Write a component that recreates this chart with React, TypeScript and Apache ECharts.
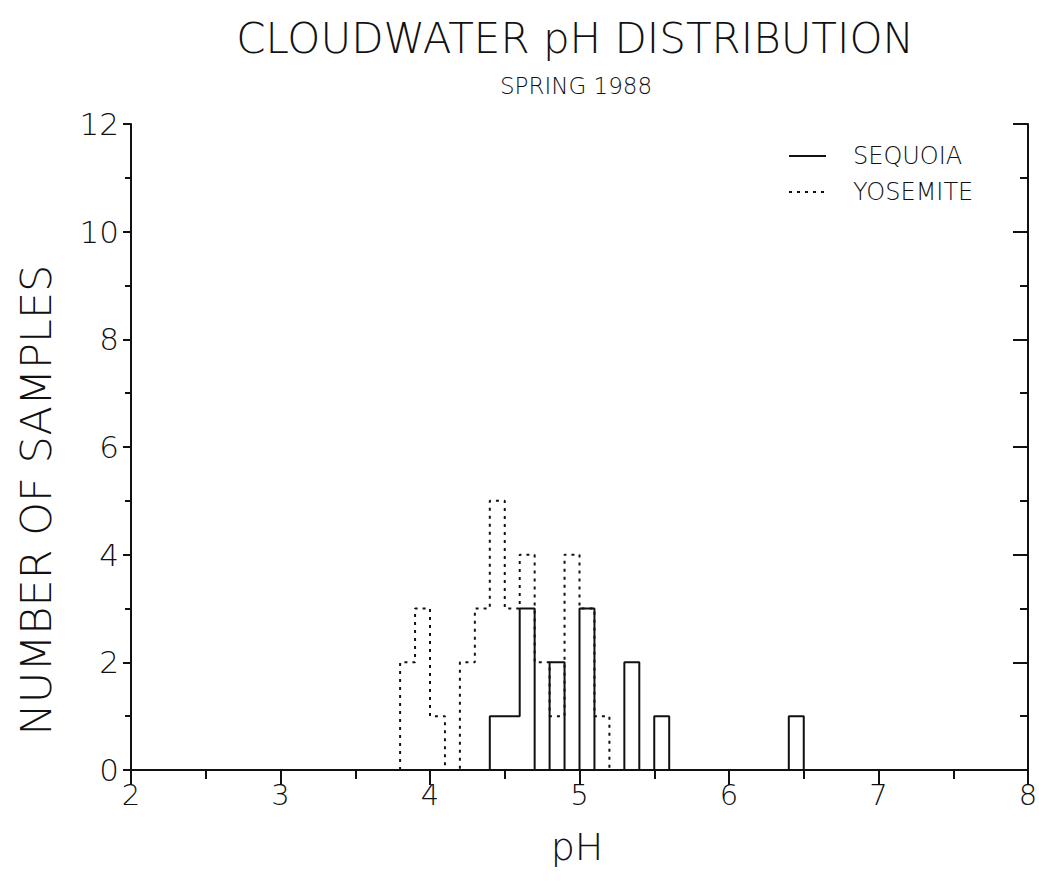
import React, { useEffect, useRef } from "react";
import * as echarts from "echarts";

const titleText = "CLOUDWATER pH DISTRIBUTION";
const subtitleText = "SPRING 1988";
const xAxisName = "pH";
const yAxisName = "NUMBER OF SAMPLES";

const phBins = [3.8, 3.9, 4.0, 4.1, 4.2, 4.3, 4.4, 4.5, 4.6, 4.7, 4.8, 4.9, 5.0, 5.1, 5.2, 5.3, 5.4, 5.5, 5.6, 5.7, 5.8, 5.9, 6.0, 6.1, 6.2, 6.3, 6.4];
const binWidth = 0.1;
const sequoiaCounts = [0, 0, 0, 0, 0, 0, 1, 1, 3, 0, 2, 0, 3, 0, 0, 2, 0, 1, 0, 0, 0, 0, 0, 0, 0, 0, 1];
const yosemiteCounts = [2, 3, 1, 0, 2, 3, 5, 3, 4, 2, 1, 4, 3, 1, 0, 0, 0, 0, 0, 0, 0, 0, 0, 0, 0, 0, 0];

const xMin = 2, xMax = 8, xInterval = 1;
const yMin = 0, yMax = 12, yInterval = 2;

const FONT = "DejaVu Sans";
const INK = "#111";

function stepData(counts: number[]): number[][] {
  let first = counts.findIndex((c) => c > 0);
  let last = counts.length - 1;
  while (last > 0 && counts[last] === 0) last--;
  const pts: number[][] = [[phBins[first], 0]];
  for (let i = first; i <= last; i++) pts.push([phBins[i], counts[i]]);
  pts.push([Math.round((phBins[last] + binWidth) * 10) / 10, 0]);
  return pts;
}

export default function App() {
  const ref = useRef<HTMLDivElement>(null);
  useEffect(() => {
    if (!ref.current) return;
    const chart = echarts.init(ref.current, null, { renderer: "svg" });
    const axisLine = { show: true, lineStyle: { color: INK, width: 2 } };
    const baseX = { type: "value" as const, min: xMin, max: xMax, interval: xInterval, splitLine: { show: false }, axisLine };
    const baseY = { type: "value" as const, min: yMin, max: yMax, interval: yInterval, splitLine: { show: false }, axisLine };
    chart.setOption({
      animation: false,
      backgroundColor: "#fff",
      textStyle: { fontFamily: FONT },
      grid: { left: 131, right: 11, top: 124, bottom: 117, outerBoundsMode: "none" },
      xAxis: [
        {
          ...baseX,
          position: "bottom",
          axisTick: { show: true, inside: false, length: 13, lineStyle: { color: INK, width: 2 } },
          minorTick: { show: true, splitNumber: 2, length: 6, lineStyle: { color: INK, width: 2 } },
          axisLabel: { show: true, color: INK, fontSize: 29, fontFamily: FONT, fontWeight: 300, margin: 10 },
        },
        {
          ...baseX,
          position: "top",
          axisTick: { show: true, inside: true, length: 15, lineStyle: { color: INK, width: 2 } },
          minorTick: { show: true, splitNumber: 2, length: 9, lineStyle: { color: INK, width: 2 } },
          axisLabel: { show: false },
        },
      ],
      yAxis: [
        {
          ...baseY,
          position: "left",
          axisTick: { show: true, inside: false, length: 8, lineStyle: { color: INK, width: 2 } },
          minorTick: { show: true, splitNumber: 2, length: 6, lineStyle: { color: INK, width: 2 } },
          axisLabel: { show: true, color: INK, fontSize: 31, fontFamily: FONT, fontWeight: 300, margin: 12 },
        },
        {
          ...baseY,
          position: "right",
          axisTick: { show: true, inside: true, length: 15, lineStyle: { color: INK, width: 2 } },
          minorTick: { show: true, splitNumber: 2, length: 8, lineStyle: { color: INK, width: 2 } },
          axisLabel: { show: false },
        },
      ],
      legend: {
        show: true,
        orient: "vertical",
        left: 783,
        top: 139,
        itemWidth: 37,
        itemHeight: 14,
        itemGap: 12,
        itemStyle: { color: "rgba(0,0,0,0)", borderColor: "rgba(0,0,0,0)", borderWidth: 0 },
        textStyle: { color: INK, fontSize: 24, fontFamily: FONT, fontWeight: 300, padding: [0, 0, 0, 22] },
        data: ["SEQUOIA", "YOSEMITE"],
      },
      graphic: [
        {
          type: "text",
          x: 575,
          y: 38,
          style: { text: titleText, fill: INK, font: `300 42px "${FONT}"`, textAlign: "center", textVerticalAlign: "middle" },
        },
        {
          type: "text",
          x: 576,
          y: 86,
          style: { text: subtitleText, fill: INK, font: `300 23px "${FONT}"`, textAlign: "center", textVerticalAlign: "middle" },
        },
        {
          type: "text",
          x: 577,
          y: 847,
          style: { text: xAxisName, fill: INK, font: `300 38px "${FONT}"`, textAlign: "center", textVerticalAlign: "middle" },
        },
        {
          type: "text",
          x: 36,
          y: 500,
          rotation: Math.PI / 2,
          style: { text: yAxisName, fill: INK, font: `300 43px "${FONT}"`, textAlign: "center", textVerticalAlign: "middle" },
        },
      ],
      series: [
        {
          name: "YOSEMITE",
          type: "line",
          step: "end",
          data: stepData(yosemiteCounts),
          showSymbol: false,
          symbol: "none",
          z: 2,
          lineStyle: { color: INK, width: 2, type: [3, 5] },
          itemStyle: { color: INK },
        },
        {
          name: "SEQUOIA",
          type: "line",
          step: "end",
          data: stepData(sequoiaCounts),
          showSymbol: false,
          symbol: "none",
          z: 3,
          lineStyle: { color: INK, width: 2, type: "solid" },
          itemStyle: { color: INK },
        },
      ],
    });
    return () => chart.dispose();
  }, []);
  return <div ref={ref} style={{ position: "fixed", left: 0, top: 0, width: 1039, height: 887 }} />;
}
